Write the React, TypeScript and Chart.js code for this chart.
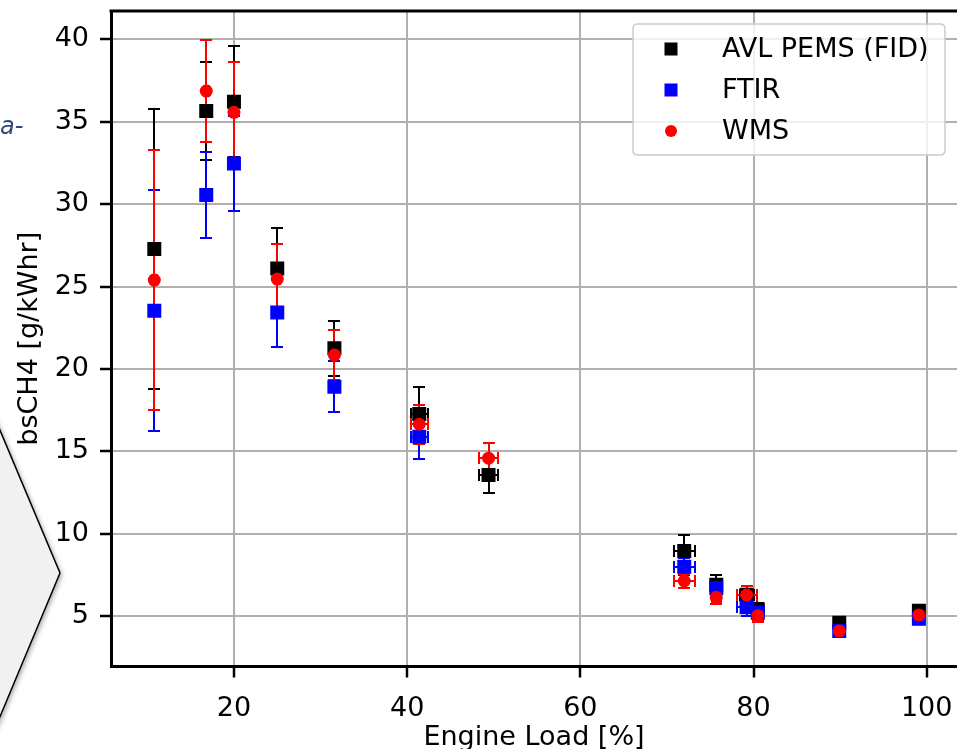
import React, { useEffect, useRef } from 'react';
import { Chart, registerables } from 'chart.js';

Chart.register(...registerables);

// ---- data ----
const engineLoad = [10.8, 16.8, 20.0, 25.0, 31.6, 41.4, 49.4, 72.0, 75.7, 79.2, 80.5, 89.9, 99.1];

const avlValues = [27.28, 35.65, 36.21, 26.1, 21.25, 17.26, 13.56, 8.95, 6.9, 6.3, 5.4, 4.6, 5.33];
const avlYErr = [8.47, 2.96, 3.38, 2.45, 1.67, 1.62, 1.1, 0.97, 0.6, 0.55, 0.38, 0.3, 0.3];
const avlXErr = [0.3, 0.3, 0.3, 0.3, 0.3, 1.0, 1.1, 1.2, 0.5, 0.8, 0.6, 0.5, 0.4];

const ftirValues = [23.53, 30.55, 32.47, 23.43, 18.92, 15.89, null, 8.0, 6.7, 5.53, 5.2, 4.1, 4.84];
const ftirYErr = [7.3, 2.6, 2.89, 2.08, 1.55, 1.38, 0, 0.5, 0.5, 0.55, 0.45, 0.3, 0.3];
const ftirXErr = [0.3, 0.3, 0.3, 0.3, 0.3, 1.0, 0, 1.2, 0.5, 1.15, 0.6, 0.4, 0.3];

const wmsValues = [25.39, 36.86, 35.57, 25.45, 20.84, 16.64, 14.58, 7.13, 6.14, 6.28, 5.02, 4.1, 5.07];
const wmsYErr = [7.9, 3.1, 3.05, 2.13, 1.52, 1.17, 0.92, 0.4, 0.4, 0.57, 0.4, 0.3, 0.3];
const wmsXErr = [0.3, 0.3, 0.3, 0.3, 0.3, 1.0, 1.05, 1.2, 0.5, 1.15, 0.6, 0.4, 0.3];

const seriesLabels = ['AVL PEMS (FID)', 'FTIR', 'WMS'];
const xTicks = [20, 40, 60, 80, 100];
const yTicks = [5, 10, 15, 20, 25, 30, 35, 40];
const xLabel = 'Engine Load [%]';
const yLabel = 'bsCH4 [g/kWhr]';
const sideText = 'a-';

const FONT = "'DejaVu Sans', sans-serif";
const FS = 27;

const toPoints = (vals: (number | null)[]) =>
  vals.map((v, i) => ({ x: engineLoad[i], y: v }));

// ---- plugins ----
const backgroundPlugin = {
  id: 'bgDecor',
  beforeDraw(chart: any) {
    const { ctx } = chart;
    ctx.save();
    ctx.fillStyle = '#ffffff';
    ctx.fillRect(0, 0, chart.width, chart.height);
    // grey chevron shape at the left edge (part of surrounding page)
    ctx.save();
    ctx.shadowColor = 'rgba(0,0,0,0.35)';
    ctx.shadowBlur = 5;
    ctx.shadowOffsetX = 2;
    ctx.shadowOffsetY = 2;
    ctx.beginPath();
    ctx.moveTo(-6, 416);
    ctx.lineTo(60, 573);
    ctx.lineTo(-6, 731);
    ctx.closePath();
    ctx.fillStyle = '#f1f1f1';
    ctx.fill();
    ctx.restore();
    ctx.beginPath();
    ctx.moveTo(-6, 416);
    ctx.lineTo(60, 573);
    ctx.lineTo(-6, 731);
    ctx.strokeStyle = '#000';
    ctx.lineWidth = 1.5;
    ctx.stroke();
    // italic fragment of text
    ctx.fillStyle = '#2e4a7d';
    ctx.font = `oblique 24px ${FONT}`;
    ctx.textBaseline = 'alphabetic';
    ctx.textAlign = 'left';
    ctx.fillText(sideText, 0, 134);
    ctx.restore();
  },
};

const errorBarPlugin = {
  id: 'errorBars',
  beforeDatasetsDraw(chart: any) {
    const { ctx } = chart;
    const xs = chart.scales.x;
    const ys = chart.scales.y;
    const cap = 6;
    const R = (v: number) => Math.round(v);
    ctx.save();
    ctx.lineWidth = 2;
    ctx.lineCap = 'butt';
    chart.data.datasets.forEach((ds: any) => {
      ctx.strokeStyle = ds.errColor;
      ds.data.forEach((p: any, i: number) => {
        if (p.y === null || p.y === undefined) return;
        const px = R(xs.getPixelForValue(p.x));
        const py = R(ys.getPixelForValue(p.y));
        const y1 = R(ys.getPixelForValue(p.y - ds.yErr[i]));
        const y2 = R(ys.getPixelForValue(p.y + ds.yErr[i]));
        const x1 = R(xs.getPixelForValue(p.x - ds.xErr[i]));
        const x2 = R(xs.getPixelForValue(p.x + ds.xErr[i]));
        ctx.beginPath();
        ctx.moveTo(px, y1); ctx.lineTo(px, y2);
        ctx.moveTo(px - cap, y1); ctx.lineTo(px + cap, y1);
        ctx.moveTo(px - cap, y2); ctx.lineTo(px + cap, y2);
        ctx.moveTo(x1, py); ctx.lineTo(x2, py);
        ctx.moveTo(x1, py - cap); ctx.lineTo(x1, py + cap);
        ctx.moveTo(x2, py - cap); ctx.lineTo(x2, py + cap);
        ctx.stroke();
      });
    });
    ctx.restore();
  },
};

const frameLegendPlugin = {
  id: 'frameLegend',
  afterDatasetsDraw(chart: any) {
    const { ctx, chartArea } = chart;
    ctx.save();
    // top spine
    ctx.strokeStyle = '#000';
    ctx.lineWidth = 3;
    ctx.beginPath();
    ctx.moveTo(chartArea.left - 1.5, chartArea.top);
    ctx.lineTo(chartArea.right + 2, chartArea.top);
    ctx.stroke();

    // legend box
    const w = 312;
    const h = 131;
    const bx = chartArea.right - 12 - w;
    const by = chartArea.top + 13;
    const r = 5;
    ctx.beginPath();
    ctx.moveTo(bx + r, by);
    ctx.lineTo(bx + w - r, by);
    ctx.quadraticCurveTo(bx + w, by, bx + w, by + r);
    ctx.lineTo(bx + w, by + h - r);
    ctx.quadraticCurveTo(bx + w, by + h, bx + w - r, by + h);
    ctx.lineTo(bx + r, by + h);
    ctx.quadraticCurveTo(bx, by + h, bx, by + h - r);
    ctx.lineTo(bx, by + r);
    ctx.quadraticCurveTo(bx, by, bx + r, by);
    ctx.closePath();
    ctx.fillStyle = 'rgba(255,255,255,0.8)';
    ctx.fill();
    ctx.strokeStyle = '#cccccc';
    ctx.lineWidth = 1.5;
    ctx.stroke();

    ctx.font = `${FS}px ${FONT}`;
    ctx.textBaseline = 'middle';
    ctx.textAlign = 'left';
    chart.data.datasets.forEach((ds: any, i: number) => {
      const cy = by + 25 + i * 41;
      const mx = bx + 38;
      ctx.fillStyle = ds.backgroundColor;
      if (ds.pointStyle === 'circle') {
        ctx.beginPath();
        ctx.arc(mx, cy, 6, 0, Math.PI * 2);
        ctx.fill();
      } else {
        ctx.fillRect(mx - 6.5, cy - 6.5, 13, 13);
      }
      ctx.fillStyle = '#000';
      ctx.fillText(ds.label, bx + 89, cy + 1);
    });
    ctx.restore();
  },
};

export default function App() {
  const canvasRef = useRef<HTMLCanvasElement | null>(null);

  useEffect(() => {
    const canvas = canvasRef.current;
    if (!canvas) return;
    const chart = new Chart(canvas, {
      type: 'scatter',
      data: {
        datasets: [
          {
            label: seriesLabels[0],
            data: toPoints(avlValues),
            backgroundColor: '#000000',
            borderColor: '#000000',
            pointStyle: 'rect',
            pointRadius: 9.9,
            pointBorderWidth: 0,
            order: 3,
            errColor: '#000000',
            yErr: avlYErr,
            xErr: avlXErr,
          } as any,
          {
            label: seriesLabels[1],
            data: toPoints(ftirValues),
            backgroundColor: '#0000ff',
            borderColor: '#0000ff',
            pointStyle: 'rect',
            pointRadius: 9.9,
            pointBorderWidth: 0,
            order: 2,
            errColor: '#0000ff',
            yErr: ftirYErr,
            xErr: ftirXErr,
          } as any,
          {
            label: seriesLabels[2],
            data: toPoints(wmsValues),
            backgroundColor: '#ff0000',
            borderColor: '#ff0000',
            pointStyle: 'circle',
            pointRadius: 6.5,
            pointBorderWidth: 0,
            order: 1,
            errColor: '#ff0000',
            yErr: wmsYErr,
            xErr: wmsXErr,
          } as any,
        ],
      },
      options: {
        responsive: false,
        animation: false,
        devicePixelRatio: 1,
        events: [],
        layout: { autoPadding: false, padding: { top: 11, left: 0, right: 0, bottom: 0 } },
        plugins: {
          legend: { display: false },
          tooltip: { enabled: false },
        },
        scales: {
          x: {
            type: 'linear',
            min: 5.8,
            max: 103.5,
            afterBuildTicks: (s: any) => {
              s.ticks = xTicks.map((v) => ({ value: v }));
            },
            afterFit: (s: any) => {
              s.height = 82.5;
              s.paddingLeft = 0;
              s.paddingRight = 0;
            },
            grid: {
              color: '#b0b0b0',
              lineWidth: 2,
              drawTicks: true,
              tickLength: 11,
              tickColor: '#000',
              tickWidth: 2.5,
            },
            border: { display: true, color: '#000', width: 3 },
            ticks: {
              color: '#000',
              font: { size: FS, family: FONT, lineHeight: 2.3 },
              padding: 0,
              maxRotation: 0,
              autoSkip: false,
            },
            title: {
              display: true,
              text: xLabel,
              color: '#000',
              font: { size: FS, family: FONT, lineHeight: 1 },
              padding: { top: 0, bottom: -2 },
            },
          },
          y: {
            type: 'linear',
            min: 1.94,
            max: 41.72,
            afterBuildTicks: (s: any) => {
              s.ticks = yTicks.map((v) => ({ value: v }));
            },
            afterFit: (s: any) => {
              s.width = 111;
              s.paddingTop = 0;
              s.paddingBottom = 0;
            },
            grid: {
              color: '#b0b0b0',
              lineWidth: 2,
              drawTicks: true,
              tickLength: 11,
              tickColor: '#000',
              tickWidth: 2.5,
            },
            border: { display: true, color: '#000', width: 3 },
            ticks: {
              color: '#000',
              font: { size: FS, family: FONT },
              padding: 11,
              autoSkip: false,
            },
            title: {
              display: true,
              text: yLabel,
              color: '#000',
              font: { size: FS, family: FONT, lineHeight: 1 },
              padding: { top: 16, bottom: 0 },
            },
          },
        },
      } as any,
      plugins: [backgroundPlugin, errorBarPlugin, frameLegendPlugin],
    });
    return () => {
      chart.destroy();
    };
  }, []);

  return (
    <div
      style={{
        position: 'fixed',
        left: 0,
        top: 0,
        width: 957,
        height: 749,
        background: '#ffffff',
        overflow: 'hidden',
      }}
    >
      <canvas ref={canvasRef} width={957} height={749} style={{ display: 'block' }} />
    </div>
  );
}
